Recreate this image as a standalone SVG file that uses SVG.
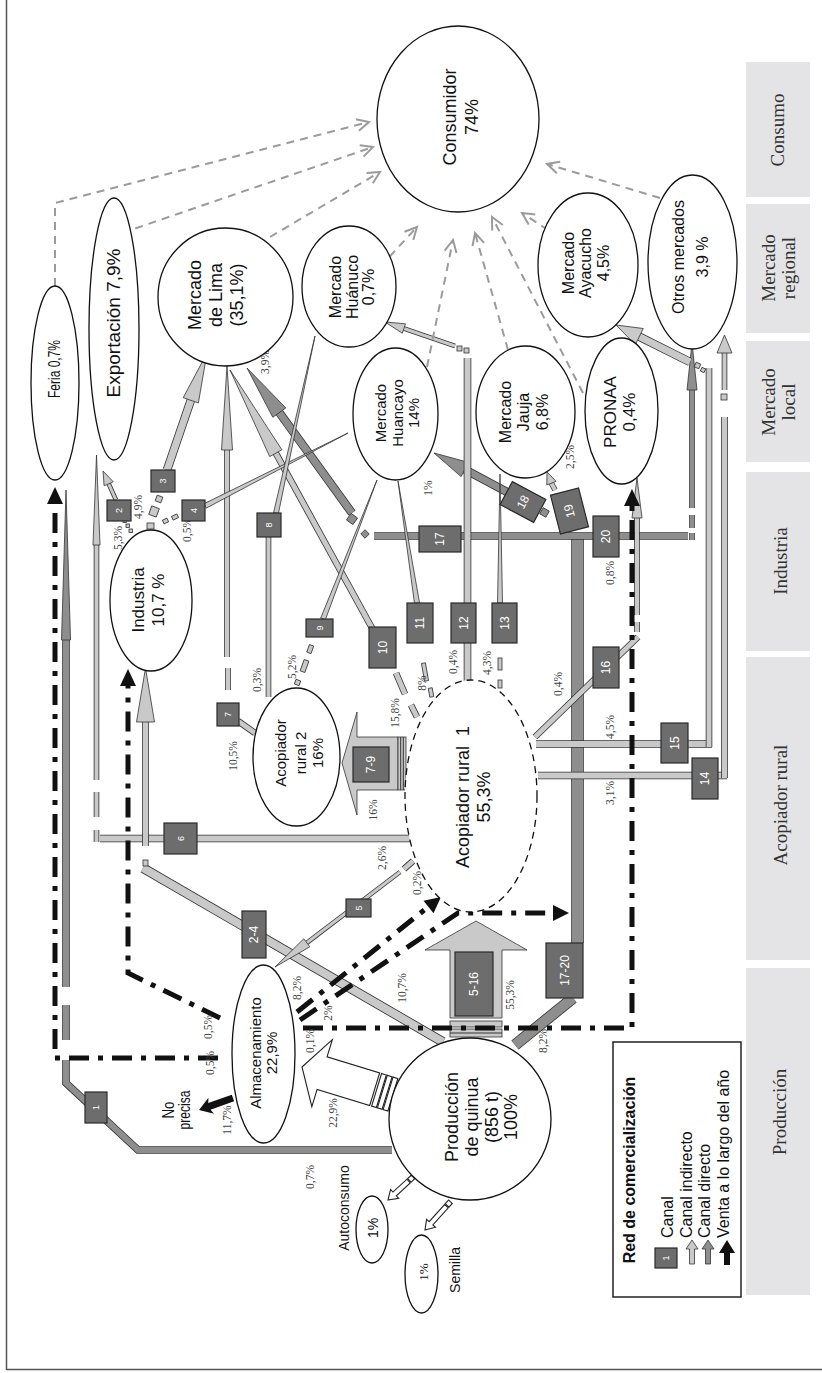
<svg xmlns="http://www.w3.org/2000/svg" width="822" height="1373" viewBox="0 0 822 1373">
<style>
.zone{fill:#e4e4e6}
.zt{font-family:"Liberation Serif","Times New Roman",serif;font-size:19px;fill:#333;text-anchor:middle;dominant-baseline:central}
.nd{fill:#fff;stroke:#111;stroke-width:1.3}
.dash{stroke-dasharray:7 5}
.t{font-family:"Liberation Sans",Arial,sans-serif;fill:#111;text-anchor:middle;dominant-baseline:central}
.p{font-family:"Liberation Serif","Times New Roman",serif;font-size:11.5px;fill:#444;text-anchor:middle;dominant-baseline:central}
.bx{fill:#6d6d6d;stroke:#2a2a2a;stroke-width:1.2}
.n{font-family:"Liberation Sans",Arial,sans-serif;fill:#fff;text-anchor:middle;dominant-baseline:central;font-size:12px}
.s{font-size:9px}
.b{fill:none;stroke-linecap:butt;stroke-linejoin:miter}
.ol{stroke:#333}.lf{stroke:#c9c9c9}.df{stroke:#8e8e8e}
.w3{stroke-width:3}.x3{stroke-width:4.6}
.w4{stroke-width:4}.x4{stroke-width:5.6}
.w5{stroke-width:5}.x5{stroke-width:6.6}
.w6{stroke-width:6}.x6{stroke-width:7.6}
.w7{stroke-width:7}.x7{stroke-width:8.6}
.w8{stroke-width:8}.x8{stroke-width:9.6}
.w10{stroke-width:10}.x10{stroke-width:11.6}
.w11{stroke-width:11}.x11{stroke-width:12.6}
.lh{fill:#c9c9c9;stroke:#333;stroke-width:0.8}
.dh{fill:#8e8e8e;stroke:#333;stroke-width:0.8}
.wh{fill:#fff;stroke:#222;stroke-width:1.1}
.dd{fill:none;stroke:#111;stroke-width:5;stroke-dasharray:20 9 5 9}
.ah{fill:#111}
.dg{fill:none;stroke:#9b9b9b;stroke-width:2;stroke-dasharray:8 6}
.dgh{fill:none;stroke:#9b9b9b;stroke-width:2}
.frame{fill:none;stroke:#555;stroke-width:1.5}
.lg{fill:#fff;stroke:#222;stroke-width:1.5}
.ls{text-anchor:start}
</style>
<defs>
<path id="e1" d="M96.5,842 V830"/>
<path id="e2" d="M96.5,817 V792"/>
<path id="e3" d="M96.5,780 V545"/>
<path id="e4" d="M100,838.5 H410"/>
<path id="e5" d="M443,1042 L143,868"/>
<path id="e6" d="M145.5,846 V720"/>
<path id="e7" d="M116,500 L108.7,483.8"/>
<path id="e8" d="M167,470 L190.8,400.3"/>
<path id="e9" d="M268.5,537 V697"/>
<path id="e10" d="M238,721 L255,733"/>
<path id="e11" d="M228,690 V668"/>
<path id="e12" d="M227,657 V450"/>
<path id="e13" d="M372,628 L275.8,453.2"/>
<path id="e14" d="M396,673 L405,694"/>
<path id="e15" d="M411,705 L417,717"/>
<path id="e16" d="M467.5,682 V358"/>
<path id="e17" d="M455,346 L403.9,328.5"/>
<path id="e18" d="M536,744 H712"/>
<path id="e19" d="M709,747 V368"/>
<path id="e20" d="M690,362 L639.3,336.6"/>
<path id="e21" d="M538,775.5 H727"/>
<path id="e22" d="M724.5,778 V417"/>
<path id="e23" d="M724.5,390 V353"/>
<path id="e24" d="M535,737 L638,637"/>
<path id="e25" d="M637,615 V518"/>
<path id="e26" d="M637,632 V622"/>
<path id="e27" d="M413,861 L404,869"/>
<path id="e28" d="M400,872 L306.8,942.8"/>
<path id="e29" d="M555,490 L551.4,483.2"/>
<path id="f1" d="M392,1150 H138 L66,1083 V1060"/>
<path id="f2" d="M66,1040 V1005"/>
<path id="f3" d="M66,987 V640"/>
<path id="f4" d="M352,513 L279.3,412.6"/>
<path id="f5" d="M374,536 H688"/>
<path id="f6" d="M515,1045 L573,998"/>
<path id="f7" d="M577.5,943 V539"/>
<path id="f8" d="M507,492 L464.9,469.5"/>
<path id="f9" d="M692,508 V387"/>
<path id="f10" d="M692,515 V528"/>
<path id="f11" d="M692,533 V540"/>
</defs>

<g id="zones">
<rect class="zone" x="746" y="62" width="64" height="135"/>
<rect class="zone" x="746" y="204" width="64" height="129"/>
<rect class="zone" x="746" y="341" width="64" height="121"/>
<rect class="zone" x="746" y="472" width="64" height="179"/>
<rect class="zone" x="746" y="657" width="64" height="303"/>
<rect class="zone" x="746" y="968" width="64" height="327"/>
<text class="zt" transform="translate(777,130) rotate(-90)">Consumo</text>
<text class="zt" transform="translate(768,268) rotate(-90)">Mercado</text>
<text class="zt" transform="translate(788,268) rotate(-90)">regional</text>
<text class="zt" transform="translate(768,402) rotate(-90)">Mercado</text>
<text class="zt" transform="translate(788,402) rotate(-90)">local</text>
<text class="zt" transform="translate(780,561) rotate(-90)">Industria</text>
<text class="zt" transform="translate(780,805) rotate(-90)">Acopiador rural</text>
<text class="zt" transform="translate(779,1112) rotate(-90)">Producción</text>
</g>
<path class="frame" d="M6.5,0 V1369.5 H822"/>

<g id="connectors">
<use href="#f1" class="b ol x6"/><use href="#f1" class="b df w6"/>
<use href="#f2" class="b ol x6"/><use href="#f2" class="b df w6"/>
<use href="#f3" class="b ol x6"/><use href="#f3" class="b df w6"/>
<use href="#f4" class="b ol x7"/><use href="#f4" class="b df w7"/>
<use href="#f6" class="b ol x10"/><use href="#f6" class="b df w10"/>
<use href="#f7" class="b ol x11"/><use href="#f7" class="b df w11"/>
<use href="#f5" class="b ol x6"/><use href="#f5" class="b df w6"/>
<use href="#f8" class="b ol x7"/><use href="#f8" class="b df w7"/>
<use href="#f9" class="b ol x4"/><use href="#f9" class="b df w4"/>
<use href="#f10" class="b ol x4"/><use href="#f10" class="b df w4"/>
<use href="#f11" class="b ol x4"/><use href="#f11" class="b df w4"/>
<polygon class="dh" points="61.5,640 70.5,640 66,490"/>
<polygon class="dh" points="285.8,407.9 272.8,417.3 247,368"/>
<polygon class="dh" points="468.7,462.4 461.1,476.6 434,453"/>
<polygon class="dh" points="687,390 697,390 692,343"/>
<rect class="dh" x="348" y="515" width="8" height="8" transform="rotate(35 352 519)"/>
<rect class="dh" x="362" y="531" width="6" height="6" transform="rotate(45 365 534)"/>
<rect class="dh" x="541" y="509" width="7" height="7" transform="rotate(30 544.5 512.5)"/>
<use href="#e1" class="b ol x4"/><use href="#e1" class="b lf w4"/>
<use href="#e2" class="b ol x4"/><use href="#e2" class="b lf w4"/>
<use href="#e3" class="b ol x4"/><use href="#e3" class="b lf w4"/>
<use href="#e4" class="b ol x6"/><use href="#e4" class="b lf w6"/>
<use href="#e5" class="b ol x8"/><use href="#e5" class="b lf w8"/>
<use href="#e6" class="b ol x5"/><use href="#e6" class="b lf w5"/>
<use href="#e7" class="b ol x3"/><use href="#e7" class="b lf w3"/>
<use href="#e8" class="b ol x7"/><use href="#e8" class="b lf w7"/>
<use href="#e9" class="b ol x4"/><use href="#e9" class="b lf w4"/>
<use href="#e10" class="b ol x5"/><use href="#e10" class="b lf w5"/>
<use href="#e11" class="b ol x4"/><use href="#e11" class="b lf w4"/>
<use href="#e12" class="b ol x4"/><use href="#e12" class="b lf w4"/>
<use href="#e13" class="b ol x5"/><use href="#e13" class="b lf w5"/>
<use href="#e14" class="b ol x5"/><use href="#e14" class="b lf w5"/>
<use href="#e15" class="b ol x5"/><use href="#e15" class="b lf w5"/>
<use href="#e16" class="b ol x6"/><use href="#e16" class="b lf w6"/>
<use href="#e17" class="b ol x3"/><use href="#e17" class="b lf w3"/>
<use href="#e18" class="b ol x6"/><use href="#e18" class="b lf w6"/>
<use href="#e19" class="b ol x5"/><use href="#e19" class="b lf w5"/>
<use href="#e20" class="b ol x7"/><use href="#e20" class="b lf w7"/>
<use href="#e21" class="b ol x6"/><use href="#e21" class="b lf w6"/>
<use href="#e22" class="b ol x5"/><use href="#e22" class="b lf w5"/>
<use href="#e23" class="b ol x4"/><use href="#e23" class="b lf w4"/>
<use href="#e24" class="b ol x5"/><use href="#e24" class="b lf w5"/>
<use href="#e25" class="b ol x4"/><use href="#e25" class="b lf w4"/>
<use href="#e26" class="b ol x4"/><use href="#e26" class="b lf w4"/>
<use href="#e27" class="b ol x5"/><use href="#e27" class="b lf w5"/>
<use href="#e28" class="b ol x3"/><use href="#e28" class="b lf w3"/>
<use href="#e29" class="b ol x4"/><use href="#e29" class="b lf w4"/>
<polygon class="lh" points="93,545 100,545 96.5,455"/>
<polygon class="lh" points="136.5,722 154.5,722 145.5,668"/>
<polygon class="lh" points="113.3,481.8 104.1,485.8 103,471"/>
<polygon class="lh" points="198.4,402.9 183.2,397.7 207,353"/>
<polygon class="lh" points="206.1,508.2 203.9,503.8 348,433"/>
<polygon class="lh" points="278.4,513.5 273.6,512.5 315,336"/>
<polygon class="lh" points="221.5,450 232.5,450 227,366"/>
<polygon class="lh" points="281.9,449.8 269.7,456.6 230,370"/>
<polygon class="lh" points="325.3,619.9 320.7,618.1 377,480"/>
<polygon class="lh" points="419.5,602.6 414.5,603.4 398,481"/>
<polygon class="lh" points="497.5,603 502.5,603 500,474"/>
<polygon class="lh" points="405.5,323.8 402.3,333.2 385,322"/>
<polygon class="lh" points="643.3,328.5 635.3,344.7 616,325"/>
<polygon class="lh" points="717,353 732,353 724.5,335"/>
<polygon class="lh" points="632,518 642,518 637,478"/>
<polygon class="lh" points="309.8,946.8 303.8,938.8 275,967"/>
<polygon class="lh" points="556.1,481.3 546.8,485 547,472"/>
<rect class="lh" x="123" y="519" width="3.5" height="3.5"/>
<rect class="lh" x="126" y="524" width="3.5" height="3.5"/>
<rect class="lh" x="129" y="529" width="3.5" height="3.5"/>
<rect class="lh" x="147" y="523" width="7" height="6"/>
<rect class="lh" x="150" y="507" width="8" height="9" transform="rotate(20 154 511.5)"/>
<rect class="lh" x="156" y="496" width="6" height="6" transform="rotate(20 159 499)"/>
<rect class="lh" x="163" y="519" width="5" height="4" transform="rotate(-25 165.5 521)"/>
<rect class="lh" x="172" y="515" width="6" height="4" transform="rotate(-25 175 517)"/>
<rect class="lh" x="143" y="860" width="5" height="6"/>
<rect class="lh" x="295" y="680" width="5" height="5" transform="rotate(20 297.5 682.5)"/>
<rect class="lh" x="302" y="660" width="5" height="12" transform="rotate(20 304.5 666)"/>
<rect class="lh" x="308" y="645" width="4.5" height="8" transform="rotate(20 310 649)"/>
<rect class="lh" x="423" y="663" width="4" height="18" transform="rotate(-10 425 672)"/>
<rect class="lh" x="429" y="688" width="4" height="9" transform="rotate(-10 431 692.5)"/>
<rect class="lh" x="457" y="346" width="5" height="5"/>
<rect class="lh" x="464" y="348" width="5" height="5"/>
<rect class="lh" x="498" y="658" width="4" height="12"/>
<rect class="lh" x="498" y="680" width="4" height="8"/>
<rect class="lh" x="721" y="394" width="6" height="6"/>
<rect class="lh" x="695" y="363" width="5" height="5" transform="rotate(25 697.5 365.5)"/>
<rect class="lh" x="701" y="368" width="4" height="4" transform="rotate(25 703 370)"/>

<polygon class="lh" points="342,763 357,712 357,737 398,737 398,790 357,790 357,815"/>
<rect class="lh" x="398" y="737" width="8" height="53"/>
<path class="b ol" stroke-width="1" d="M400.7,737 V790 M403.3,737 V790"/>
<polygon class="lh" points="476,921 527,950 502,950 502,1018 450,1018 450,950 425,950"/>
<rect class="lh" x="450" y="1021" width="52" height="6"/>
<rect class="lh" x="450" y="1029" width="52" height="8"/>
<path class="b ol" stroke-width="1" d="M450,1033 H502"/>
<g transform="translate(302,1067) rotate(17)">
<polygon class="wh" points="0,0 21,-35 21,-17 76,-17 76,17 21,17 21,35"/>
<rect class="wh" x="78" y="-17" width="5" height="34"/>
<rect class="wh" x="84" y="-17" width="5" height="34"/>
<rect class="wh" x="90" y="-17" width="5" height="34"/>
</g>
<g transform="translate(388,1200) rotate(137.4)">
<polygon class="wh" points="0,0 -9,-6 -9,-2.5 -28,-2.5 -28,2.5 -9,2.5 -9,6"/>
<rect class="wh" x="-34" y="-2.5" width="5" height="5"/>
</g>
<g transform="translate(425,1230) rotate(132)">
<polygon class="wh" points="0,0 -9,-6 -9,-2.5 -32,-2.5 -32,2.5 -9,2.5 -9,6"/>
<rect class="wh" x="-38" y="-2.5" width="5" height="5"/>
</g>
<g transform="translate(199,1110) rotate(160.6)">
<polygon class="ah" points="0,0 -13,-8.5 -11,-3.5 -36,-3.5 -36,3.5 -11,3.5 -13,8.5"/>
</g>

<path class="dd" d="M218,1058 H55 V504"/>
<polygon class="ah" points="47,504 63,504 55,487"/>
<path class="dd" d="M220,1018 L128,973 V686"/>
<polygon class="ah" points="120,686 136,686 128,669"/>
<path class="dd" d="M297,1012 L428,907"/>
<polygon class="ah" points="441,897 433.5,913.3 423.5,900.7"/>
<path class="dd" d="M300,1020 L458,913 H553"/>
<polygon class="ah" points="553,905 553,921 569,913"/>
<path class="dd" d="M303,1028 H632 V506"/>
<polygon class="ah" points="624,506 640,506 632,489"/>

<path class="dg" d="M55,286 V203 L369,122"/>
<polyline class="dgh" points="355.9,119.2 369,122 358.9,130.8"/>
<path class="dg" d="M122,233 L373,147"/>
<polyline class="dgh" points="359.7,145.2 373,147 363.5,156.6"/>
<path class="dg" d="M270,237 L380,172"/>
<polyline class="dgh" points="366.6,172.9 380,172 372.8,183.3"/>
<path class="dg" d="M380,267 L417,227"/>
<polyline class="dgh" points="404.5,231.7 417,227 413.3,239.9"/>
<path class="dg" d="M427,367 L453,240"/>
<polyline class="dgh" points="444.7,250.6 453,240 456.5,253"/>
<path class="dg" d="M508,350 L475,233"/>
<polyline class="dgh" points="472.5,246.1 475,233 484.1,242.9"/>
<path class="dg" d="M583,393 L492,217"/>
<polyline class="dgh" points="492.2,230.4 492,217 502.8,225"/>
<path class="dg" d="M548,230 L522,213"/>
<polyline class="dgh" points="528.7,224.6 522,213 535.3,214.6"/>
<path class="dg" d="M660,198 L547,164"/>
<polyline class="dgh" points="556.8,173.3 547,164 560.2,161.7"/>

<text class="p" transform="translate(118,538) rotate(-90)">5,3%</text>
<text class="p" transform="translate(138,507) rotate(-90)">4,9%</text>
<text class="p" transform="translate(187,530) rotate(-90)">0,5%</text>
<text class="p" transform="translate(265,362) rotate(-90)">3,9%</text>
<text class="p" transform="translate(257,680) rotate(-90)">0,3%</text>
<text class="p" transform="translate(233,756) rotate(-90)">10,5%</text>
<text class="p" transform="translate(292,667) rotate(-90)">5,2%</text>
<text class="p" transform="translate(395,713) rotate(-90)">15,8%</text>
<text class="p" transform="translate(422,683) rotate(-90)">8%</text>
<text class="p" transform="translate(453,662) rotate(-90)">0,4%</text>
<text class="p" transform="translate(487,663) rotate(-90)">4,3%</text>
<text class="p" transform="translate(428,488) rotate(-90)">1%</text>
<text class="p" transform="translate(570,457) rotate(-90)">2,5%</text>
<text class="p" transform="translate(610,573) rotate(-90)">0,8%</text>
<text class="p" transform="translate(558,684) rotate(-90)">0,4%</text>
<text class="p" transform="translate(610,727) rotate(-90)">4,5%</text>
<text class="p" transform="translate(610,793) rotate(-90)">3,1%</text>
<text class="p" transform="translate(373,810) rotate(-90)">16%</text>
<text class="p" transform="translate(382,858) rotate(-90)">2,6%</text>
<text class="p" transform="translate(417,883) rotate(-90)">0,2%</text>
<text class="p" transform="translate(402,988) rotate(-90)">10,7%</text>
<text class="p" transform="translate(297,988) rotate(-90)">8,2%</text>
<text class="p" transform="translate(328,1013) rotate(-90)">2%</text>
<text class="p" transform="translate(310,1041) rotate(-90)">0,1%</text>
<text class="p" transform="translate(208,1027) rotate(-90)">0,5%</text>
<text class="p" transform="translate(210,1063) rotate(-90)">0,5%</text>
<text class="p" transform="translate(227,1120) rotate(-90)">11,7%</text>
<text class="p" transform="translate(333,1113) rotate(-90)">22,9%</text>
<text class="p" transform="translate(310,1177) rotate(-90)">0,7%</text>
<text class="p" transform="translate(510,995) rotate(-90)">55,3%</text>
<text class="p" transform="translate(543,1041) rotate(-90)">8,2%</text>
</g>

<g id="channels">
<g id="ch1"><rect class="bx" x="85" y="1092" width="22" height="31"/><text class="n s" transform="translate(96,1107.5) rotate(-90)">1</text></g>
<g id="ch2"><rect class="bx" x="107" y="500" width="24" height="21"/><text class="n s" transform="translate(119,510.5) rotate(-90)">2</text></g>
<g id="ch3"><rect class="bx" x="151" y="470" width="24" height="22"/><text class="n s" transform="translate(163,481) rotate(-90)">3</text></g>
<g id="ch4"><rect class="bx" x="182" y="500" width="23" height="21"/><text class="n s" transform="translate(193.5,510.5) rotate(-90)">4</text></g>
<g id="ch8"><rect class="bx" x="257" y="513" width="24" height="24"/><text class="n s" transform="translate(269,525) rotate(-90)">8</text></g>
<g id="ch6"><rect class="bx" x="164" y="823" width="33" height="31"/><text class="n s" transform="translate(180.5,838.5) rotate(-90)">6</text></g>
<g id="ch7"><rect class="bx" x="217" y="703" width="22" height="23"/><text class="n s" transform="translate(228,714.5) rotate(-90)">7</text></g>
<g id="ch9"><rect class="bx" x="306" y="619" width="27" height="18"/><text class="n s" transform="translate(319.5,628) rotate(-90)">9</text></g>
<g id="ch10"><rect class="bx" x="369" y="627" width="27" height="41"/><text class="n" transform="translate(382.5,647.5) rotate(-90)">10</text></g>
<g id="ch11"><rect class="bx" x="407" y="603" width="26" height="40"/><text class="n" transform="translate(420,623) rotate(-90)">11</text></g>
<g id="ch12"><rect class="bx" x="451" y="603" width="25" height="40"/><text class="n" transform="translate(463.5,623) rotate(-90)">12</text></g>
<g id="ch13"><rect class="bx" x="492" y="603" width="25" height="40"/><text class="n" transform="translate(504.5,623) rotate(-90)">13</text></g>
<g id="ch17"><rect class="bx" x="419" y="526" width="42" height="26"/><text class="n" transform="translate(440,539) rotate(-90)">17</text></g>
<g id="ch20"><rect class="bx" x="593" y="516" width="26" height="41"/><text class="n" transform="translate(606,536.5) rotate(-90)">20</text></g>
<g id="ch16"><rect class="bx" x="593" y="647" width="26" height="41"/><text class="n" transform="translate(606,667.5) rotate(-90)">16</text></g>
<g id="ch15"><rect class="bx" x="661" y="723" width="27" height="40"/><text class="n" transform="translate(674.5,743) rotate(-90)">15</text></g>
<g id="ch14"><rect class="bx" x="692" y="758" width="26" height="41"/><text class="n" transform="translate(705,778.5) rotate(-90)">14</text></g>
<g id="ch5"><rect class="bx" x="346" y="899" width="25" height="18"/><text class="n s" transform="translate(358.5,908) rotate(-90)">5</text></g>
<g id="ch2-4"><rect class="bx" x="242" y="911" width="24" height="47"/><text class="n" transform="translate(254,934.5) rotate(-90)">2-4</text></g>
<g id="ch17-20"><rect class="bx" x="546" y="943" width="37" height="55"/><text class="n" transform="translate(564.5,970.5) rotate(-90)">17-20</text></g>
<g id="ch18" transform="translate(523,502) rotate(28)"><rect class="bx" x="-19" y="-13" width="38" height="26"/><text class="n" transform="rotate(-90)">18</text></g>
<g id="ch19" transform="translate(569.5,511) rotate(-14.4)"><rect class="bx" x="-14.5" y="-20" width="29" height="40"/><text class="n" transform="rotate(-90)">19</text></g>
<g id="ch7-9"><rect class="bx" x="353" y="747" width="36" height="35"/><text class="n" transform="translate(371,764.5) rotate(-90)">7-9</text></g>
<g id="ch5-16"><rect class="bx" x="455" y="952" width="38" height="64"/><text class="n" transform="translate(474,984) rotate(-90)">5-16</text></g>
</g>

<g id="n-consumidor"><ellipse class="nd" cx="458" cy="119" rx="81" ry="93"/>
<text class="t" font-size="18" transform="translate(450,117) rotate(-90)">Consumidor</text>
<text class="t" font-size="18" transform="translate(472,117) rotate(-90)">74%</text></g>
<g id="n-feria"><ellipse class="nd" cx="55" cy="383" rx="24" ry="97"/>
<text class="t" font-size="17" textLength="58" lengthAdjust="spacingAndGlyphs" transform="translate(54,369) rotate(-90)">Feria 0,7%</text></g>
<g id="n-exportacion"><ellipse class="nd" cx="114" cy="329" rx="25" ry="131"/>
<text class="t" font-size="19" transform="translate(113,323) rotate(-90)">Exportación 7,9%</text></g>
<g id="n-lima"><ellipse class="nd" cx="225.5" cy="297" rx="67.5" ry="69"/>
<text class="t" font-size="18" transform="translate(195,295) rotate(-90)">Mercado</text>
<text class="t" font-size="18" transform="translate(216,295) rotate(-90)">de Lima</text>
<text class="t" font-size="18" transform="translate(237,295) rotate(-90)">(35,1%)</text></g>
<g id="n-huanuco"><ellipse class="nd" cx="349" cy="286.5" rx="47" ry="60.5"/>
<text class="t" font-size="16" transform="translate(335,287) rotate(-90)">Mercado</text>
<text class="t" font-size="16" transform="translate(352,287) rotate(-90)">Huánuco</text>
<text class="t" font-size="16" transform="translate(368,287) rotate(-90)">0,7%</text></g>
<g id="n-huancayo"><ellipse class="nd" cx="395.5" cy="414" rx="42.5" ry="66"/>
<text class="t" font-size="15" transform="translate(380,413) rotate(-90)">Mercado</text>
<text class="t" font-size="15" transform="translate(397,413) rotate(-90)">Huancayo</text>
<text class="t" font-size="15" transform="translate(413,413) rotate(-90)">14%</text></g>
<g id="n-jauja"><ellipse class="nd" cx="525.5" cy="412" rx="49.5" ry="66"/>
<text class="t" font-size="16" transform="translate(505,412) rotate(-90)">Mercado</text>
<text class="t" font-size="16" transform="translate(523,412) rotate(-90)">Jauja</text>
<text class="t" font-size="16" transform="translate(542,412) rotate(-90)">6,8%</text></g>
<g id="n-pronaa"><ellipse class="nd" cx="621.5" cy="411" rx="36.5" ry="73"/>
<text class="t" font-size="17" transform="translate(610,412) rotate(-90)">PRONAA</text>
<text class="t" font-size="17" transform="translate(629,412) rotate(-90)">0,4%</text></g>
<g id="n-ayacucho"><ellipse class="nd" cx="588" cy="265" rx="50" ry="72"/>
<text class="t" font-size="16" transform="translate(568,263) rotate(-90)">Mercado</text>
<text class="t" font-size="16" transform="translate(585,263) rotate(-90)">Ayacucho</text>
<text class="t" font-size="16" transform="translate(603,263) rotate(-90)">4,5%</text></g>
<g id="n-otros"><ellipse class="nd" cx="692.5" cy="262" rx="44.5" ry="87"/>
<text class="t" font-size="16" transform="translate(678,257) rotate(-90)">Otros mercados</text>
<text class="t" font-size="16" transform="translate(702,257) rotate(-90)">3,9 %</text></g>
<g id="n-industria"><ellipse class="nd" cx="151" cy="600.5" rx="41" ry="70.5"/>
<text class="t" font-size="17" transform="translate(138,600) rotate(-90)">Industria</text>
<text class="t" font-size="17" transform="translate(158,600) rotate(-90)">10,7 %</text></g>
<g id="n-acopiador2"><ellipse class="nd" cx="296.5" cy="757" rx="43.5" ry="69"/>
<text class="t" font-size="15" transform="translate(280,753) rotate(-90)">Acopiador</text>
<text class="t" font-size="15" transform="translate(300,753) rotate(-90)">rural 2</text>
<text class="t" font-size="15" transform="translate(317,753) rotate(-90)">16%</text></g>
<g id="n-acopiador1"><ellipse class="nd dash" cx="471" cy="796" rx="66" ry="116"/>
<text class="t" font-size="18" transform="translate(463,797) rotate(-90)" xml:space="preserve">Acopiador rural  1</text>
<text class="t" font-size="18" transform="translate(484,797) rotate(-90)">55,3%</text></g>
<g id="n-almacenamiento"><ellipse class="nd" cx="263.5" cy="1054" rx="31.5" ry="89"/>
<text class="t" font-size="15" transform="translate(255,1053) rotate(-90)">Almacenamiento</text>
<text class="t" font-size="15" transform="translate(271,1053) rotate(-90)">22,9%</text></g>
<g id="n-noprecisa">
<text class="t" font-size="16" textLength="17" lengthAdjust="spacingAndGlyphs" transform="translate(168,1110) rotate(-90)">No</text>
<text class="t" font-size="16" textLength="39" lengthAdjust="spacingAndGlyphs" transform="translate(184,1110) rotate(-90)">precisa</text></g>
<g id="n-produccion"><ellipse class="nd" cx="470" cy="1119" rx="81" ry="81"/>
<text class="t" font-size="18" transform="translate(452,1117) rotate(-90)">Producción</text>
<text class="t" font-size="18" transform="translate(472,1117) rotate(-90)">de quinua</text>
<text class="t" font-size="18" transform="translate(492,1117) rotate(-90)">(856 t)</text>
<text class="t" font-size="18" transform="translate(511,1117) rotate(-90)">100%</text></g>
<g id="n-autoconsumo"><ellipse class="nd" cx="372" cy="1229.5" rx="16" ry="33.5"/>
<text class="t" font-size="14" transform="translate(373,1228) rotate(-90)">1%</text>
<text class="t" font-size="14" transform="translate(344,1208) rotate(-90)">Autoconsumo</text></g>
<g id="n-semilla"><ellipse class="nd" cx="421.5" cy="1274" rx="16.5" ry="39"/>
<text class="p" transform="translate(423,1272) rotate(-90)" style="font-size:13px;fill:#111">1%</text>
<text class="t" font-size="14" transform="translate(455,1270) rotate(-90)">Semilla</text></g>

<g id="legend">
<rect class="lg" x="613" y="1042" width="128" height="255"/>
<text class="t" font-size="16" font-weight="bold" transform="translate(629,1170) rotate(-90)">Red de comercialización</text>
<rect class="bx" x="655" y="1248" width="22" height="20"/>
<text class="n s" transform="translate(666,1258) rotate(-90)">1</text>
<polygon class="lh" points="692,1240 686,1249 689.5,1249 689.5,1264 694.5,1264 694.5,1249 698,1249"/>
<polygon class="dh" points="708,1240 702,1249 705.5,1249 705.5,1264 710.5,1264 710.5,1249 714,1249"/>
<polygon class="ah" points="727,1240 719,1253 724,1253 724,1265 730,1265 730,1253 735,1253"/>
<text class="t ls" font-size="16" transform="translate(667,1238) rotate(-90)">Canal</text>
<text class="t ls" font-size="16" transform="translate(686,1238) rotate(-90)">Canal indirecto</text>
<text class="t ls" font-size="16" transform="translate(704,1238) rotate(-90)">Canal directo</text>
<text class="t ls" font-size="16" transform="translate(723,1238) rotate(-90)">Venta a lo largo del año</text>
</g>
</svg>
